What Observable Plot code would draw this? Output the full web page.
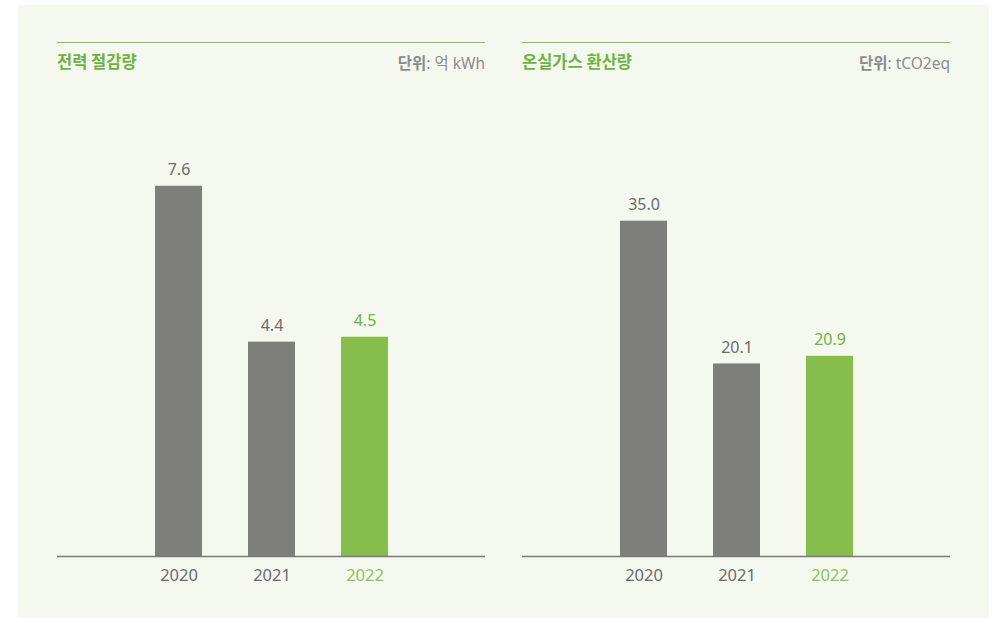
<!DOCTYPE html>
<html>
<head>
<meta charset="utf-8">
<script src="https://cdn.jsdelivr.net/npm/d3@7"></script>
<script src="https://cdn.jsdelivr.net/npm/@observablehq/plot@0.6"></script>
<style>
  html, body { margin: 0; padding: 0; background: #ffffff; width: 998px; height: 618px; overflow: hidden; }
  body { font-family: "Noto Sans", "Noto Sans CJK KR", sans-serif; }
  #panel { position: absolute; left: 18px; top: 5px; width: 971px; height: 613px; background: #f5f8ef; }
  .head { position: absolute; top: 42px; width: 428px; height: 34px; border-top: 1px solid #80c040; }
  .title { position: absolute; left: 0; top: 6px; font-size: 16.5px; font-weight: 700; color: #6cb33f; font-family: "Noto Sans CJK KR", sans-serif; }
  .unit { position: absolute; right: 0; top: 8px; font-size: 15.5px; color: #8c8c8c; font-family: "Noto Sans", "Noto Sans CJK KR", sans-serif; }
  .unit b { font-weight: 700; font-family: "Noto Sans CJK KR", sans-serif; }
  .chart { position: absolute; top: 100px; }
</style>
</head>
<body>
<div id="panel"></div>
<div class="head" style="left:57px"><span class="title">전력 절감량</span><span class="unit"><b>단위</b>: 억 kWh</span></div>
<div class="head" style="left:522px"><span class="title">온실가스 환산량</span><span class="unit"><b>단위</b>: tCO2eq</span></div>
<div class="chart" id="c1" style="left:57px"></div>
<div class="chart" id="c2" style="left:522px"></div>
<script>
const years = ["2020", "2021", "2022"];
const powerSaved = [7.6, 4.4, 4.5];
const ghgConverted = [35.0, 20.1, 20.9];
const valueLabels1 = ["7.6", "4.4", "4.5"];
const valueLabels2 = ["35.0", "20.1", "20.9"];

const grayBar = "#7e7e7b";
const greenBar = "#86bd4d";
const grayText = "#6b6b6b";
const greenText = "#6cb33f";
const greenTick = "#8cc35c";

function makeChart(values, labels, yMax) {
  const data = years.map((y, i) => ({year: y, value: values[i], label: labels[i], hi: y === "2022"}));
  return Plot.plot({
    width: 428,
    height: 500,
    marginTop: 0,
    marginBottom: 44,
    marginLeft: 0,
    marginRight: 0,
    style: {background: "transparent", fontFamily: "'Noto Sans', sans-serif"},
    x: {domain: years, paddingInner: 0.5, paddingOuter: 1.04, axis: null},
    y: {domain: [0, yMax], axis: null},
    marks: [
      Plot.barY(data, {x: "year", y: "value", fill: d => d.hi ? greenBar : grayBar}),
      Plot.ruleY([0], {stroke: "#7a7a78", strokeWidth: 1.5}),
      Plot.text(data, {x: "year", y: "value", text: "label", dy: -16, fontSize: 16, fill: d => d.hi ? greenText : grayText}),
      Plot.text(data, {x: "year", y: 0, text: "year", dy: 19, fontSize: 16.5, fill: d => d.hi ? greenTick : grayText})
    ]
  });
}

document.getElementById("c1").appendChild(makeChart(powerSaved, valueLabels1, 9.36));
document.getElementById("c2").appendChild(makeChart(ghgConverted, valueLabels2, 47.6));
</script>
</body>
</html>
